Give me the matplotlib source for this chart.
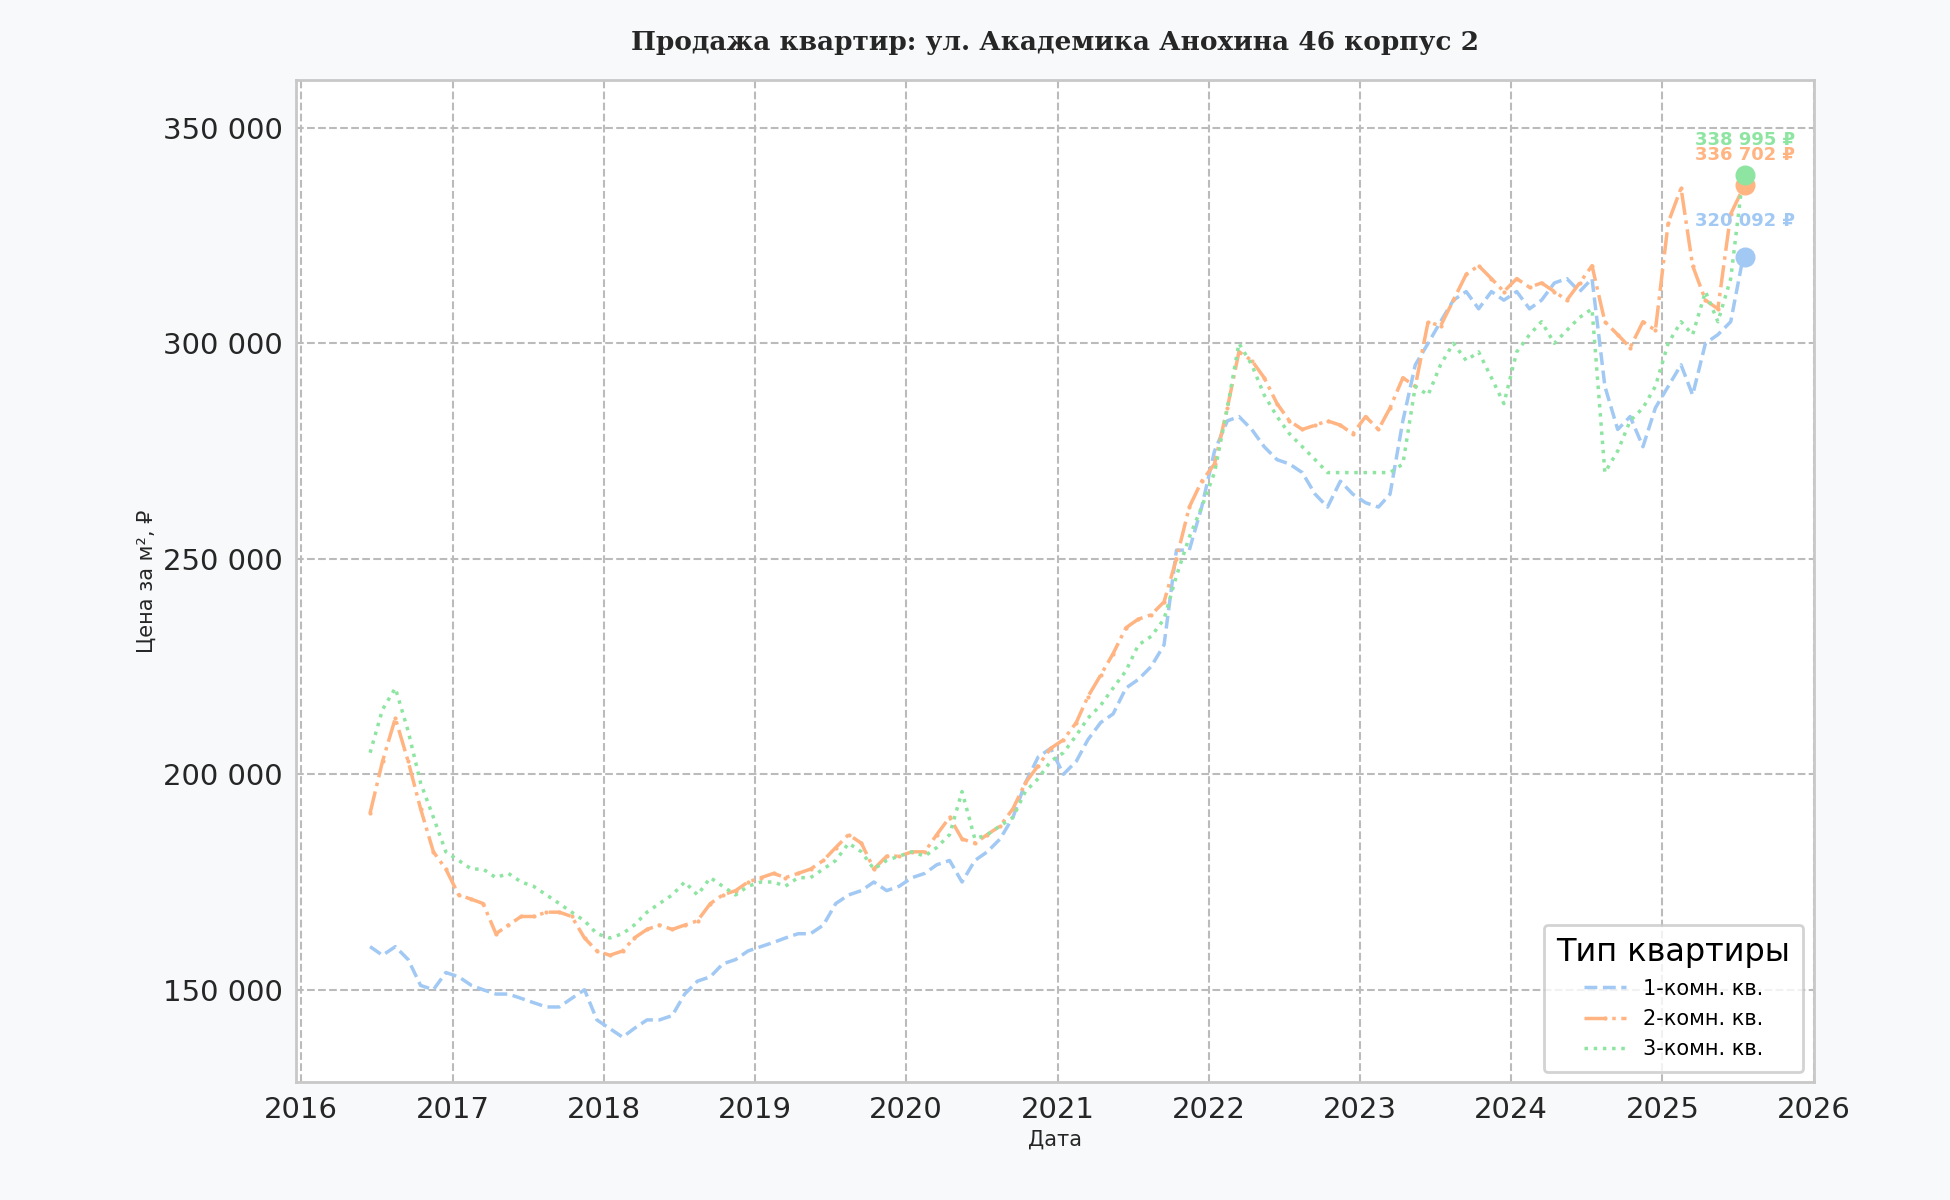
import matplotlib
matplotlib.use("Agg")
import matplotlib.pyplot as plt
import matplotlib.ticker as mticker
import pandas as pd
import numpy as np

dates = pd.date_range("2016-06-01", periods=110, freq="MS") + pd.Timedelta(days=14)

blue = [160,158,160,157,151,150,154,
 153,151,150,149,149,148,147,146,146,148,150,143,
 141,139,141,143,143,144,149,152,153,156,157,159,
 160,161,162,163,163,165,170,172,173,175,173,174,
 176,177,179,180,175,180,182,185,190,198,204,206,
 200,203,208,212,214,220,222,225,230,252,252,262,
 275,282,283,280,276,273,272,270,265,262,268,265,
 263,262,265,282,295,300,305,310,312,308,312,310,
 312,308,310,314,315,312,315,290,280,283,276,285,
 290,295,288,300,302,305,320]
orange = [191,203,213,203,192,182,178,
 172,171,170,163,165,167,167,168,168,167,162,159,
 158,159,162,164,165,164,165,166,170,172,173,175,
 176,177,176,177,178,180,183,186,184,178,181,181,
 182,182,186,190,185,184,186,188,192,198,202,206,
 208,212,218,223,228,234,236,237,240,250,262,268,
 272,285,298,296,292,286,282,280,281,282,281,279,
 283,280,285,292,290,305,304,310,316,318,315,312,
 315,313,314,312,310,314,318,305,302,299,305,303,
 328,336,318,310,308,330,336]
green = [205,215,220,210,198,190,182,
 180,178,178,176,177,175,174,172,170,168,166,163,
 162,163,165,168,170,172,175,172,176,174,172,174,
 175,175,174,176,176,178,180,184,182,178,180,181,
 182,181,183,186,196,185,186,188,190,196,199,203,
 205,209,213,216,220,224,230,232,236,246,255,262,
 270,285,300,295,288,283,279,276,273,270,270,270,
 270,270,270,272,290,288,295,300,296,298,292,286,
 298,302,305,300,303,306,308,270,275,282,285,290,
 300,305,302,312,305,315,339]

labels = ["1-комн. кв.", "2-комн. кв.", "3-комн. кв."]
last_vals = [320092, 336702, 338995]
last_date = pd.Timestamp("2025-07-20")
colors = ["#a1c9f4", "#ffb482", "#8de5a1"]
styles = ["--", "-.", ":"]
offsets = [22, 18, 22]

fig = plt.figure(figsize=(19.5, 12), dpi=100, facecolor="#f8f9fa")
ax = fig.add_axes([0.152, 0.098, 0.778, 0.835])
ax.set_facecolor("white")
for s in ax.spines.values():
    s.set_color("#c8c8c8"); s.set_linewidth(2)

for vals, c, ls, lab in zip([blue, orange, green], colors, styles, labels):
    ax.plot(dates, np.array(vals) * 1000, color=c, ls=ls, lw=2.5, label=lab,
            marker="." if ls == "-." else None, markersize=4)

for v, c, o in zip(last_vals, colors, offsets):
    ax.scatter([last_date], [v], s=180, color=c, zorder=5)
    ax.annotate(f"{v:,}".replace(",", " ") + " ₽", (last_date, v), xytext=(0, o),
                textcoords="offset points", ha="center", color=c, fontsize=13, fontweight="bold")

ax.set_ylim(128500, 361000)
ax.set_xlim(pd.Timestamp("2015-12-20"), pd.Timestamp("2026-01-01"))
ax.yaxis.set_major_formatter(mticker.FuncFormatter(lambda v, p: f"{int(v):,}".replace(",", " ")))
ax.set_yticks([150000, 200000, 250000, 300000, 350000])
ax.xaxis.set_major_locator(matplotlib.dates.YearLocator())
ax.xaxis.set_major_formatter(matplotlib.dates.DateFormatter("%Y"))
ax.tick_params(labelsize=21, colors="#262626", length=0, pad=10)
ax.grid(True, ls="--", color="#bbbbbb", lw=1.5)
ax.set_xlabel("Дата", fontsize=15, color="#262626")
ax.set_ylabel("Цена за м², ₽", fontsize=15, color="#262626")
ax.set_title("Продажа квартир: ул. Академика Анохина 46 корпус 2", fontsize=19,
             fontweight="bold", family="DejaVu Serif", color="#262626", pad=22)
leg = ax.legend(title="Тип квартиры", loc="lower right", fontsize=15, title_fontsize=23,
                frameon=True, edgecolor="#c8c8c8", fancybox=True, borderpad=0.6)
leg.get_frame().set_linewidth(2)
fig.savefig("out.png", dpi=100, facecolor=fig.get_facecolor())
